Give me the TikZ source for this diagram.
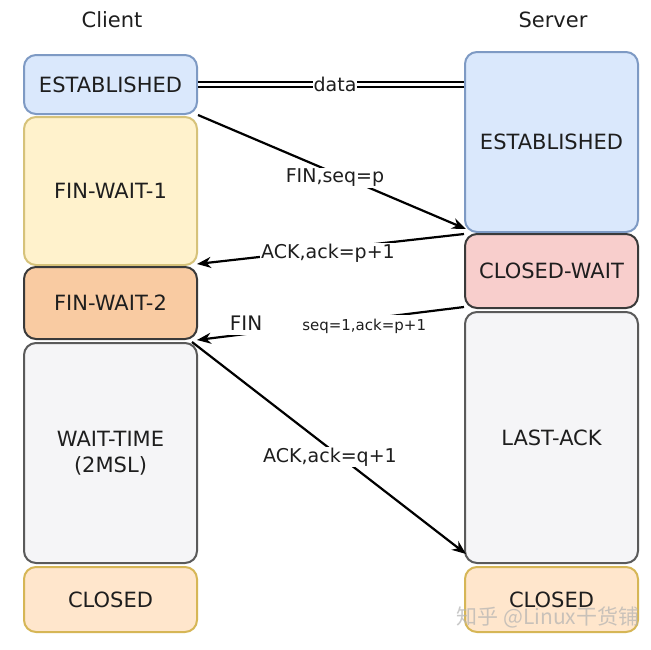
\documentclass[tikz,border=0pt]{standalone}
\usepackage{fontspec}
\setmainfont{DejaVu Sans}
\newfontfamily\cjkfont{Noto Sans CJK SC}
\usetikzlibrary{arrows.meta}
\definecolor{bluefill}{HTML}{DAE8FC}
\definecolor{blueline}{HTML}{7E9AC4}
\definecolor{yellowfill}{HTML}{FFF2CC}
\definecolor{yellowline}{HTML}{D6C27A}
\definecolor{orangefill}{HTML}{F9CBA2}
\definecolor{darkline}{HTML}{3A3A3A}
\definecolor{pinkfill}{HTML}{F8CECC}
\definecolor{grayfill}{HTML}{F5F5F7}
\definecolor{grayline}{HTML}{5A5A5A}
\definecolor{peachfill}{HTML}{FFE6CC}
\definecolor{peachline}{HTML}{D6B656}
\definecolor{txt}{HTML}{1E1E1E}
\begin{document}
\begin{tikzpicture}[x=1pt,y=-1pt,
  state/.style={draw, rounded corners=12pt, line width=2pt, minimum width=173pt,
    inner sep=0pt, align=center, text=txt, font=\fontsize{21}{26}\selectfont},
  msg/.style={-{Stealth[length=14pt,width=11pt]}, line width=2.2pt, black},
  lbl/.style={fill=white, inner sep=1pt, text=txt, font=\fontsize{19}{22}\selectfont},
  head/.style={text=txt, font=\fontsize{21}{24}\selectfont}]
\useasboundingbox (0,0) rectangle (651,649);
\fill[white] (0,0) rectangle (651,649);

\node[head] (client) at (112,20) {Client};
\node[head] (server) at (553,20) {Server};

% client column
\node[state, fill=bluefill, draw=blueline, minimum height=59pt] (cest) at (110.5,84.5) {ESTABLISHED};
\node[state, fill=yellowfill, draw=yellowline, minimum height=148pt] (cfw1) at (110.5,191) {FIN-WAIT-1};
\node[state, fill=orangefill, draw=darkline, minimum height=72pt] (cfw2) at (110.5,303) {FIN-WAIT-2};
\node[state, fill=grayfill, draw=grayline, minimum height=220pt] (cwt) at (110.5,453) {WAIT-TIME\\(2MSL)};
\node[state, fill=peachfill, draw=peachline, minimum height=65pt] (ccl) at (110.5,599.5) {CLOSED};

% server column
\node[state, fill=bluefill, draw=blueline, minimum height=180pt] (sest) at (551.5,142) {ESTABLISHED};
\node[state, fill=pinkfill, draw=darkline, minimum height=74pt] (scw) at (551.5,271) {CLOSED-WAIT};
\node[state, fill=grayfill, draw=grayline, minimum height=251pt] (sla) at (551.5,437.5) {LAST-ACK};
\node[state, fill=peachfill, draw=peachline, minimum height=65pt] (scl) at (551.5,599.5) {CLOSED};

% data
\draw[line width=2pt, double=white, double distance=3.5pt] (cest.east) -- (sest.west |- cest.east);
\node[lbl] (data) at (335,84) {data};

% messages
\draw[msg] (cest.south east) -- ([xshift=2pt,yshift=4pt]sest.south west);
\node[lbl] (m1) at (335,178) {FIN,seq=p};

\draw[msg] ([yshift=-1pt]scw.north west) -- ([xshift=-1pt,yshift=2pt]cfw1.south east);
\node[lbl] (m2) at (328,253) {ACK,ack=p+1};

\draw[msg] ([yshift=2pt]scw.south west) -- ([xshift=-1pt]cfw2.south east);
\node[lbl, font=\fontsize{20}{22}\selectfont] (m3) at (328,325) {FIN\hspace{40pt}\fontsize{15}{22}\selectfont seq=1,ack=p+1};

\draw[msg] ([xshift=-6pt]cwt.north east) -- ([xshift=2pt,yshift=10pt]sla.south west);
\node[lbl] (m4) at (330,457) {ACK,ack=q+1};

% watermark
\node[text=gray!60, opacity=0.7, font=\cjkfont\fontsize{21}{24}\selectfont] (wm) at (548,617) {知乎 @Linux干货铺};
\end{tikzpicture}
\end{document}
